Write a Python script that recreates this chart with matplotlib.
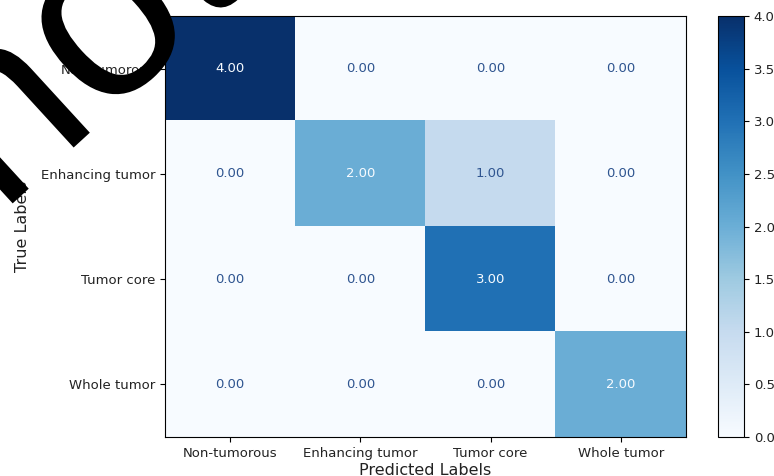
import numpy as np
import matplotlib.pyplot as plt
from matplotlib.textpath import TextPath
from matplotlib.patches import PathPatch
from matplotlib.font_manager import FontProperties
from matplotlib import transforms

# confusion matrix for the four tumour classes
class_names = ["Non-tumorous", "Enhancing tumor", "Tumor core", "Whole tumor"]
cm = np.array([
    [4, 0, 0, 0],
    [0, 2, 1, 0],
    [0, 0, 3, 0],
    [0, 0, 0, 2],
])

fig = plt.figure(figsize=(7.74, 4.76), dpi=100)
ax = fig.add_axes([0.2132, 0.0819, 0.673, 0.8845])
cax = fig.add_axes([0.9277, 0.0819, 0.0336, 0.8845])

cmap = plt.cm.Blues
im = ax.imshow(cm, cmap=cmap, vmin=0, vmax=cm.max(), aspect="auto",
               interpolation="nearest")

# cell annotations, light text on dark cells
thresh = (cm.max() + cm.min()) / 2.0
for i in range(cm.shape[0]):
    for j in range(cm.shape[1]):
        color = cmap(0) if cm[i, j] >= thresh else "#2f5590"
        ax.text(j, i, f"{cm[i, j]:.2f}", ha="center", va="center",
                color=color, fontsize=9.5)

ax.set_xticks(range(len(class_names)))
ax.set_xticklabels(class_names, fontsize=9.5, color="#222222")
ax.set_yticks(range(len(class_names)))
ax.set_yticklabels(class_names, fontsize=9.5, color="#222222")
ax.set_xlabel("Predicted Labels", fontsize=11.5, color="#222222", labelpad=2)
ax.set_ylabel("True Labels", fontsize=11.5, color="#222222", labelpad=8)

cb = fig.colorbar(im, cax=cax)
cb.set_ticks(np.arange(0, 4.01, 0.5))
cb.ax.tick_params(labelsize=9.5, labelcolor="#222222")

# big black stamp across the upper left corner
stamp = TextPath((0, 0), "not", size=248,
                 prop=FontProperties(family="Liberation Sans"))
stamp_tf = (transforms.Affine2D()
            .rotate_deg(42.5)
            .translate(0, 476 - 215))
fig.add_artist(PathPatch(stamp, transform=stamp_tf, facecolor="black",
                         edgecolor="none", zorder=10))

fig.savefig("out.png", dpi=100)
